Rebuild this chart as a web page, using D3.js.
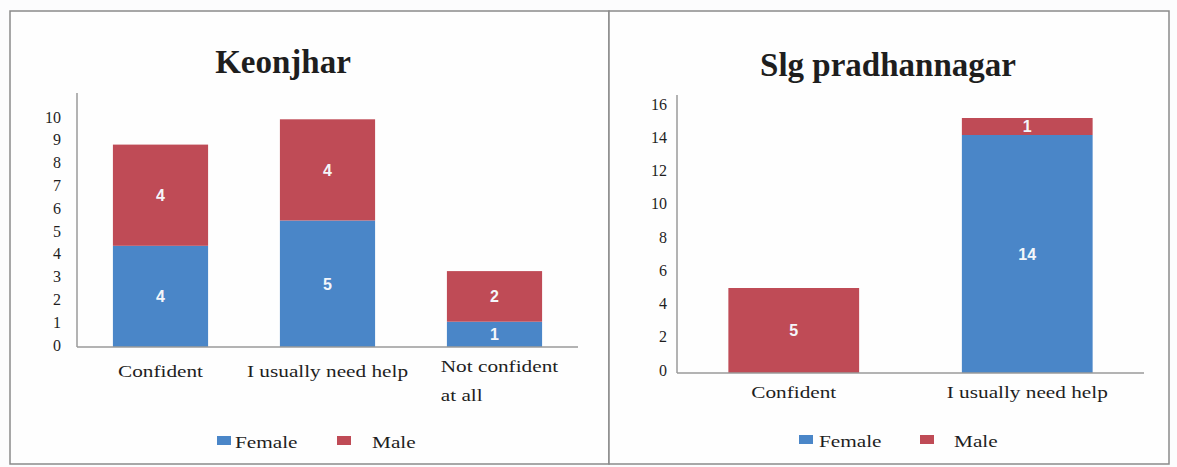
<!DOCTYPE html>
<html><head><meta charset="utf-8">
<script src="https://cdn.jsdelivr.net/npm/d3@7"></script>
<style>
body{margin:0;background:#fcfcfd;}
svg{display:block;font-family:"Liberation Serif","Times New Roman",serif;}
</style>
</head><body><svg id="c" width="1177" height="467"></svg>
<script>
// ---- data ----
const seriesNames = ["Female", "Male"];
const seriesColors = ["#4a86c8", "#bf4b56"];

const keonjharCategories = ["Confident", "I usually need help", "Not confident at all"];
const keonjharFemale = [4, 5, 1];
const keonjharMale = [4, 4, 2];
const keonjharTicks = [0, 1, 2, 3, 4, 5, 6, 7, 8, 9, 10];

const slgCategories = ["Confident", "I usually need help"];
const slgFemale = [0, 14];
const slgMale = [5, 1];
const slgTicks = [0, 2, 4, 6, 8, 10, 12, 14, 16];

const svg = d3.select("#c");
const SX = 1.25; // horizontal stretch of the scanned serif text

function drawChart(cfg) {
  const g = svg.append("g");
  // panel
  g.append("rect").attr("x", cfg.panel[0]).attr("y", cfg.panel[1])
    .attr("width", cfg.panel[2]).attr("height", cfg.panel[3])
    .attr("fill", "#fefefe").attr("stroke", "#8a8a8a").attr("stroke-width", 1.5);
  // title
  g.append("text").attr("x", cfg.titleX).attr("y", cfg.titleY)
    .attr("text-anchor", "middle").attr("font-size", 33).attr("font-weight", "bold")
    .attr("fill", "#1e1e1e").text(cfg.title);

  const rows = cfg.categories.map((c, i) => ({cat: c, Female: cfg.female[i], Male: cfg.male[i]}));
  const stacked = d3.stack().keys(seriesNames)(rows);

  const x = d3.scaleBand().domain(cfg.categories).range(cfg.xRange)
    .paddingInner(cfg.pad).paddingOuter(cfg.pad / 2);
  const y = d3.scaleLinear().domain([0, cfg.yMax]).range([cfg.axisY, cfg.topY]);
  const yLab = d3.scaleLinear().domain([0, cfg.yMax]).range(cfg.tickRange);

  // bars
  stacked.forEach((layer, si) => {
    g.append("g").selectAll("rect").data(layer).join("rect")
      .attr("x", d => x(d.data.cat)).attr("width", x.bandwidth())
      .attr("y", d => y(d[1])).attr("height", d => y(d[0]) - y(d[1]))
      .attr("fill", seriesColors[si]);
    g.append("g").selectAll("text").data(layer.filter(d => d[1] - d[0] > 0)).join("text")
      .attr("x", d => x(d.data.cat) + x.bandwidth() / 2)
      .attr("y", d => (y(d[0]) + y(d[1])) / 2)
      .attr("dy", "0.36em").attr("text-anchor", "middle")
      .attr("font-family", "'Liberation Sans', Arial, sans-serif")
      .attr("font-size", 16).attr("font-weight", "bold").attr("fill", "#f4f6fa")
      .text(d => d[1] - d[0]);
  });

  // y axis line
  g.append("line").attr("x1", cfg.xRange[0]).attr("x2", cfg.xRange[0])
    .attr("y1", cfg.axisY).attr("y2", cfg.axisTop)
    .attr("stroke", "#9a9a9a").attr("stroke-width", 1.5);
  // y tick labels
  const ya = d3.axisLeft(yLab).tickValues(cfg.ticks).tickSize(0).tickPadding(0);
  const yg = g.append("g").attr("transform", `translate(${cfg.tickX},0)`).call(ya);
  yg.select(".domain").remove();
  yg.selectAll("text").attr("font-family", "'Liberation Serif','Times New Roman',serif")
    .attr("font-size", 16).attr("fill", "#1e1e1e");

  // x axis
  const xa = d3.axisBottom(x).tickSize(0).tickFormat("");
  const xg = g.append("g").attr("transform", `translate(0,${cfg.axisY})`).call(xa);
  xg.select(".domain").attr("stroke", "#9a9a9a").attr("stroke-width", 1.5)
    .attr("d", `M${cfg.xRange[0]},0H${cfg.xRange[1]}`);

  // category labels (wrapped when long)
  cfg.categories.forEach(c => {
    const cx = x(c) + x.bandwidth() / 2;
    let lines = [c];
    if (c.length > 19) {
      const words = c.split(" ");
      lines = [words.slice(0, 2).join(" "), words.slice(2).join(" ")];
    }
    if (lines.length === 1) {
      g.append("text").attr("transform", `translate(${cx},${cfg.axisY + cfg.labelOff}) scale(${SX},1)`)
        .attr("text-anchor", "middle").attr("font-size", 17).attr("fill", "#1e1e1e").text(c);
    } else {
      const p2 = g.append("text").attr("font-size", 17).text(lines[0]);
      const w0 = p2.node().getComputedTextLength() * SX; p2.remove();
      const left = cx - w0 / 2 + 5;
      lines.forEach((ln, li) => {
        g.append("text").attr("transform", `translate(${left},${cfg.axisY + cfg.labelOff - 5 + li * 29}) scale(${SX},1)`)
          .attr("text-anchor", "start").attr("font-size", 17).attr("fill", "#1e1e1e").text(ln);
      });
    }
  });

  // legend
  seriesNames.forEach((s, i) => {
    g.append("rect").attr("x", cfg.legend[i][0]).attr("y", cfg.legendY - 12)
      .attr("width", 14).attr("height", 9).attr("fill", seriesColors[i]);
    g.append("text").attr("transform", `translate(${cfg.legend[i][1]},${cfg.legendY}) scale(${SX},1)`)
      .attr("font-size", 17).attr("fill", "#1e1e1e").text(s);
  });
}

drawChart({
  title: "Keonjhar", titleX: 283, titleY: 73,
  panel: [10, 11, 599, 453],
  categories: keonjharCategories, female: keonjharFemale, male: keonjharMale,
  xRange: [77, 578], pad: 0.43,
  yMax: 10, axisY: 347, topY: 94, axisTop: 93,
  tickRange: [345, 117], ticks: keonjharTicks, tickX: 61,
  labelOff: 30,
  legendY: 448, legend: [[217, 235], [337, 372]]
});

drawChart({
  title: "Slg pradhannagar", titleX: 888, titleY: 76,
  panel: [609, 11, 560, 453],
  categories: slgCategories, female: slgFemale, male: slgMale,
  xRange: [677, 1144], pad: 0.44,
  yMax: 16, axisY: 373, topY: 101, axisTop: 95,
  tickRange: [370, 104], ticks: slgTicks, tickX: 667,
  labelOff: 25,
  legendY: 447, legend: [[799, 819], [920, 954]]
});
</script>
</body></html>
